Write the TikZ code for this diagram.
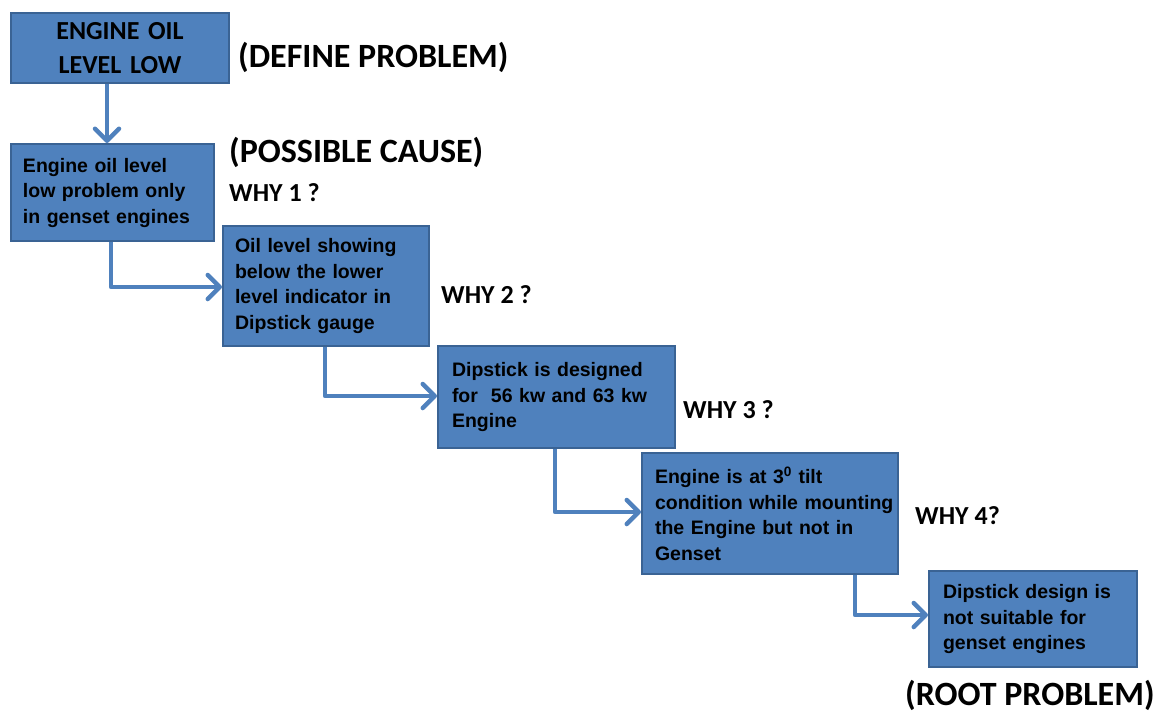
\documentclass[tikz,border=0pt]{standalone}
\usepackage{fontspec}
\setmainfont{Liberation Sans}
\newfontfamily\calib{Carlito}
\usetikzlibrary{arrows.meta}
\definecolor{boxfill}{HTML}{4F81BD}
\definecolor{boxline}{HTML}{3A6394}
\begin{document}
\begin{tikzpicture}[x=1pt,y=-1pt,
  box/.style={draw=boxline, line width=2pt, fill=boxfill, anchor=north west,
    inner xsep=12pt, inner ysep=0pt, align=left,
    font=\bfseries\fontsize{19.5}{25.5}\selectfont},
  lab/.style={anchor=west, inner sep=0pt, font=\calib\bfseries\fontsize{26}{30}\selectfont},
  big/.style={anchor=west, inner sep=0pt, font=\calib\bfseries\fontsize{34}{40}\selectfont},
  link/.style={draw=boxfill, line width=4.5pt, line join=round,
    -{Straight Barb[length=12pt,width=24pt,round]}}]
\useasboundingbox[fill=white] (0,0) rectangle (1159,716);

\node[box, align=center, minimum width=218pt, minimum height=70pt, text width=194pt,
  font=\calib\bfseries\fontsize{26}{34}\selectfont] (b1) at (10,12) {\mbox{ENGINE OIL}\\\mbox{LEVEL LOW}};
\node[box, minimum width=203pt, minimum height=97pt, text width=179pt] (b2) at (10,143)
  {\mbox{Engine oil level}\\\mbox{low problem only}\\\mbox{in genset engines}};
\node[box, minimum width=206pt, minimum height=120pt, text width=182pt] (b3) at (222,225)
  {\mbox{Oil level showing}\\\mbox{below the lower}\\\mbox{level indicator in}\\\mbox{Dipstick gauge}};
\node[box, minimum width=237pt, minimum height=102pt, text width=209pt, inner xsep=14pt] (b4) at (437,345)
  {\mbox{Dipstick is designed}\\\mbox{for\ \ 56 kw and 63 kw}\\\mbox{Engine}};
\node[box, minimum width=256pt, minimum height=121pt, text width=230pt, inner xsep=13pt] (b5) at (641,452)
  {\mbox{Engine is at 3\textsuperscript{0} tilt}\\\mbox{condition while mounting}\\\mbox{the Engine but not in}\\\mbox{Genset}};
\node[box, minimum width=208pt, minimum height=96pt, text width=180pt, inner xsep=14pt] (b6) at (928,570)
  {\mbox{Dipstick design is}\\\mbox{not suitable for}\\\mbox{genset engines}};

\node[big] (t1) at (238,57) {(DEFINE PROBLEM)};
\node[big] (t2) at (229,152) {(POSSIBLE CAUSE)};
\node[lab] (w1) at (229,193) {WHY 1 ?};
\node[lab] (w2) at (441,295) {WHY 2 ?};
\node[lab] (w3) at (683,410) {WHY 3 ?};
\node[lab] (w4) at (915,516) {WHY 4?};
\node[big] (t3) at (905,695) {(ROOT PROBLEM)};

\draw[link] (b1.south -| 107,0) -- (b2.north -| 107,0);
\draw[link] (b2.south -| 111,0) |- (b3.west |- 0,287);
\draw[link] (b3.south -| 325,0) |- (b4.west |- 0,396);
\draw[link] (b4.south -| 555,0) |- (b5.west |- 0,512);
\draw[link] (b5.south -| 855,0) |- (b6.west |- 0,615);
\end{tikzpicture}
\end{document}
